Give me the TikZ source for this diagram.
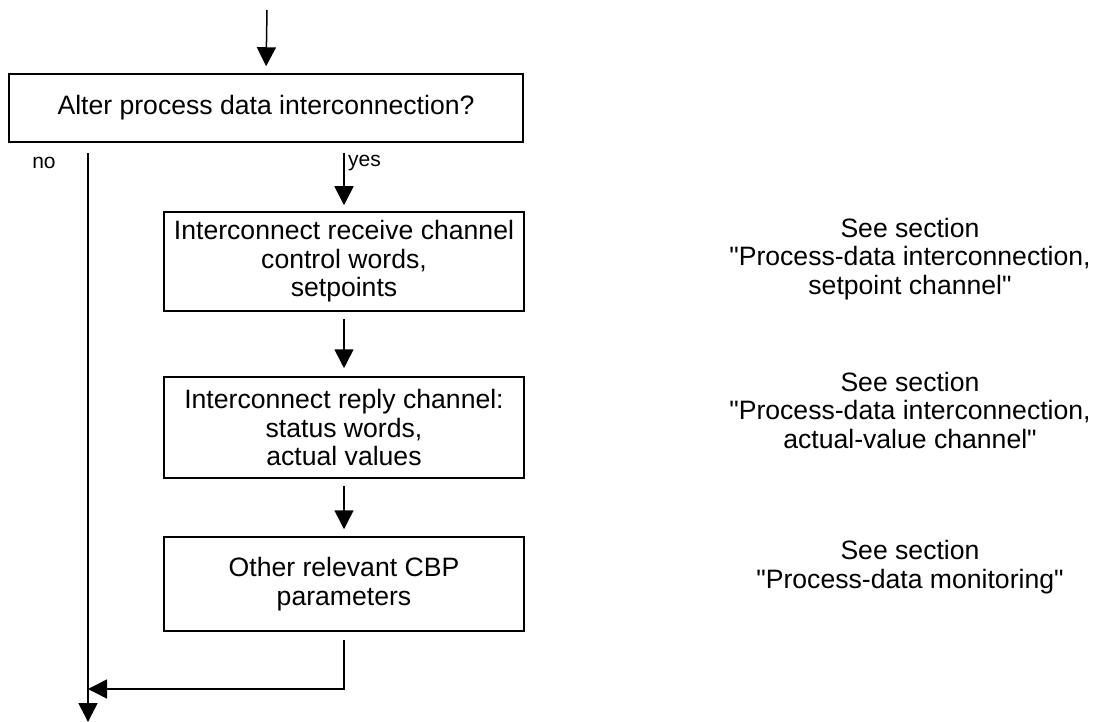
\documentclass[tikz,border=0pt]{standalone}
\usepackage{fontspec}
\newfontfamily\arialf{Liberation Sans}
\usetikzlibrary{arrows.meta}
\begin{document}
\begin{tikzpicture}[x=1pt,y=-1pt,
  box/.style={draw,line width=1.5pt,inner sep=0pt,align=center,
    font=\arialf\fontsize{26.6}{28.5}\selectfont},
  side/.style={align=center,inner sep=0pt,font=\arialf\fontsize{26.6}{28.5}\selectfont},
  lbl/.style={inner sep=0pt,font=\arialf\fontsize{21}{24}\selectfont},
  conn/.style={line width=1.5pt,-{Triangle[length=19pt,width=19pt]}}]
\useasboundingbox (0,0) rectangle (1096,722);
\node[box,minimum width=514pt,minimum height=68pt] (b1) at (266,108) {Alter process data interconnection?};
\node[box,minimum width=360pt,minimum height=99pt] (b2) at (344,261.5) {Interconnect receive channel\\control words,\\setpoints};
\node[box,minimum width=360pt,minimum height=101pt] (b3) at (344,427.5) {Interconnect reply channel:\\status words,\\actual values};
\node[box,minimum width=360pt,minimum height=94pt] (b4) at (344,584) {Other relevant CBP\\parameters};
\node[side] (s1) at (910,259) {See section\\"Process-data interconnection,\\setpoint channel"};
\node[side] (s2) at (910,410) {See section\\"Process-data interconnection,\\actual-value channel"};
\node[side] (s3) at (910,567) {See section\\"Process-data monitoring"};
\node[lbl] (no) at (44,163) {no};
\node[lbl,anchor=west] (yes) at (348,163) {yes};
\coordinate (top) at (267,10);
\coordinate (nostart) at (88,153);
\coordinate (noend) at (88,722);
\coordinate (join) at (88,689);
\draw[conn,shorten >=7pt] (top) -- (b1.north);
\draw[conn,shorten <=10pt,shorten >=6pt] (b1.south -| b2.north) -- (b2.north);
\draw[conn,shorten <=7pt,shorten >=8pt] (b2.south) -- (b3.north);
\draw[conn,shorten <=7pt,shorten >=7pt] (b3.south) -- (b4.north);
\draw[conn] (nostart) -- (noend);
\draw[conn,shorten <=8pt] (b4.south) |- (join);
\end{tikzpicture}
\end{document}
